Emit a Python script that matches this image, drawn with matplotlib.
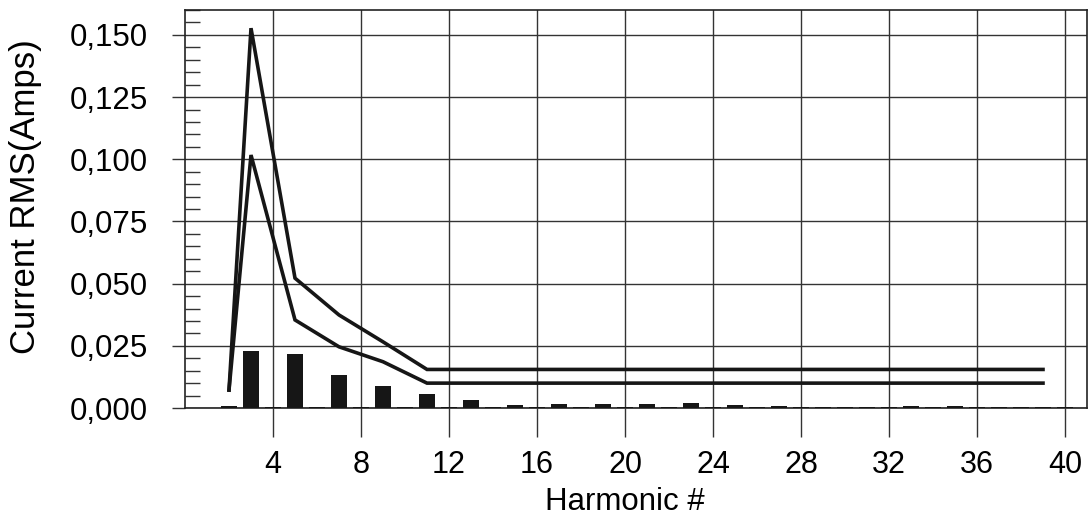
import matplotlib
matplotlib.use("Agg")
import matplotlib.pyplot as plt
from matplotlib.ticker import FixedLocator, MultipleLocator

plt.rcParams['font.family'] = ['Liberation Sans', 'DejaVu Sans']

# Harmonic spectrum bars (measured currents)
odd_harmonics = [3, 5, 7, 9, 11, 13, 15, 17, 19, 21, 23, 25, 27, 29, 31, 33, 35, 37, 39]
odd_values = [0.0229, 0.0217, 0.0133, 0.0089, 0.0056, 0.0033, 0.0014, 0.0015, 0.0015,
              0.0015, 0.0019, 0.0012, 0.0008, 0.0003, 0.0006, 0.0010, 0.0009, 0.0004, 0.0006]
even_harmonics = [2, 4, 6, 8, 10, 12, 14, 16, 18, 20, 22, 24, 26, 28, 30, 32, 34, 36, 38, 40]
even_values = [0.0008, 0.0005, 0.0004, 0.0004, 0.0004, 0.0003, 0.0003, 0.0003, 0.0003, 0.0003,
               0.0003, 0.0003, 0.0003, 0.0003, 0.0003, 0.0003, 0.0003, 0.0003, 0.0003, 0.0003]

# Limit curves
limit_x = [2, 3, 5, 7, 9, 11, 13, 15, 17, 19, 21, 23, 25, 27, 29, 31, 33, 35, 37, 39]
upper_limit = [0.0072, 0.1527, 0.0522, 0.0374, 0.0266, 0.0155, 0.0155, 0.0155, 0.0155, 0.0155,
               0.0155, 0.0155, 0.0155, 0.0155, 0.0155, 0.0155, 0.0155, 0.0155, 0.0155, 0.0155]
lower_limit = [0.0072, 0.1017, 0.0354, 0.0246, 0.0186, 0.0100, 0.0100, 0.0100, 0.0100, 0.0100,
               0.0100, 0.0100, 0.0100, 0.0100, 0.0100, 0.0100, 0.0100, 0.0100, 0.0100, 0.0100]

x_ticks = [4, 8, 12, 16, 20, 24, 28, 32, 36, 40]
y_ticks = [0.000, 0.025, 0.050, 0.075, 0.100, 0.125, 0.150]
y_tick_labels = ['0,000', '0,025', '0,050', '0,075', '0,100', '0,125', '0,150']

fig = plt.figure(figsize=(10.9, 5.21), dpi=100)
ax = fig.add_axes([185/1090, 1 - 408/521, (1087-185)/1090, (408-10)/521])

ink = '#161616'
ax.bar(odd_harmonics, odd_values, width=0.75, color=ink, zorder=3)
ax.bar(even_harmonics, even_values, width=0.75, color=ink, zorder=3)
ax.plot(limit_x, upper_limit, color=ink, lw=2.6, zorder=4, solid_joinstyle='miter')
ax.plot(limit_x, lower_limit, color=ink, lw=2.6, zorder=4, solid_joinstyle='miter')

ax.set_xlim(0, 41)
ax.set_ylim(0, 0.16)

ax.xaxis.set_major_locator(FixedLocator(x_ticks))
ax.set_xticklabels([str(t) for t in x_ticks])
ax.yaxis.set_major_locator(FixedLocator(y_ticks))
ax.set_yticklabels(y_tick_labels)
ax.yaxis.set_minor_locator(MultipleLocator(0.005))

ax.grid(True, which='major', color='#333333', lw=1.0, zorder=1)
ax.tick_params(axis='x', which='major', direction='out', length=21, width=1.0,
               color='#333333', labelsize=22, pad=9)
ax.tick_params(axis='y', which='major', direction='out', length=9.5, width=1.0,
               color='#333333', labelsize=22.5, pad=17)
ax.tick_params(axis='y', which='minor', direction='in', length=11, width=1.0, color='#333333')
for s in ax.spines.values():
    s.set_color('#222222')
    s.set_linewidth(1.2)

ax.set_ylabel('Current RMS(Amps)', fontsize=25)
ax.yaxis.set_label_coords(-0.158, 0.53)
ax.set_xlabel('Harmonic #', fontsize=22.5)
ax.xaxis.set_label_coords(0.488, -0.198)

fig.savefig('out.png', dpi=100)
